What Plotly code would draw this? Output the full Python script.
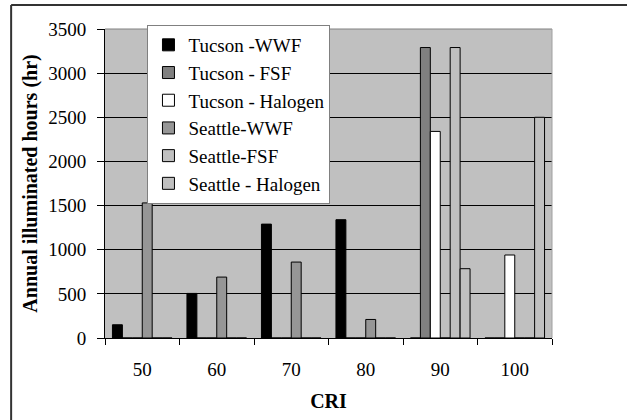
import plotly.graph_objects as go

# CRI categories on the x axis
cri = ["50", "60", "70", "80", "90", "100"]

# Annual illuminated hours per series (0 = no lamp at that CRI)
tucson_wwf = [150, 505, 1290, 1340, 0, 0]
tucson_fsf = [0, 0, 0, 0, 3290, 0]
tucson_halogen = [0, 0, 0, 0, 2340, 940]
seattle_wwf = [1530, 690, 860, 210, 0, 0]
seattle_fsf = [0, 0, 0, 0, 3290, 0]
seattle_halogen = [0, 0, 0, 0, 785, 2500]

series_names = ["Tucson -WWF", "Tucson - FSF", "Tucson - Halogen",
                "Seattle-WWF", "Seattle-FSF", "Seattle - Halogen"]
series_values = [tucson_wwf, tucson_fsf, tucson_halogen,
                 seattle_wwf, seattle_fsf, seattle_halogen]
series_colors = ["#000000", "#808080", "#FFFFFF", "#969696", "#C0C0C0", "#C0C0C0"]

y_ticks = [0, 500, 1000, 1500, 2000, 2500, 3000, 3500]

FONT = "Liberation Serif"

fig = go.Figure()
for name, vals, col in zip(series_names, series_values, series_colors):
    fig.add_trace(go.Bar(
        x=cri, y=vals, name=name,
        marker=dict(color=col, line=dict(color="#000000", width=1)),
    ))

fig.update_layout(
    width=627, height=420,
    margin=dict(l=105, r=75, t=29, b=82),
    paper_bgcolor="#FFFFFF",
    plot_bgcolor="#C0C0C0",
    barmode="group",
    bargap=0.2,
    bargroupgap=0,
    font=dict(family=FONT, size=19, color="#000000"),
    showlegend=True,
    legend=dict(
        x=0.095, y=1.013, xanchor="left", yanchor="top",
        bgcolor="#FFFFFF", bordercolor="#808080", borderwidth=1,
        font=dict(family=FONT, size=19, color="#000000"),
        tracegroupgap=0,
    ),
    xaxis=dict(
        type="category",
        showline=True, linecolor="#000000", linewidth=1,
        ticks="outside", tickson="boundaries", ticklen=6, tickcolor="#000000",
        showgrid=False,
        ticklabelstandoff=14,
        tickfont=dict(family=FONT, size=19),
        title=dict(text="<b>CRI</b>", font=dict(family=FONT, size=20), standoff=15),
    ),
    yaxis=dict(
        range=[0, 3500], tickvals=y_ticks,
        showline=True, linecolor="#000000", linewidth=1,
        ticks="outside", ticklen=7, tickcolor="#000000",
        showgrid=True, gridcolor="#000000", gridwidth=1,
        zeroline=False,
        ticklabelstandoff=7,
        tickfont=dict(family=FONT, size=19),
        title=dict(text="<b>Annual illuminated hours (hr)</b>",
                   font=dict(family=FONT, size=20), standoff=5),
    ),
    shapes=[
        # plot-area frame on top and right
        dict(type="line", xref="paper", yref="paper", x0=0, x1=1, y0=1, y1=1,
             line=dict(color="#808080", width=1), layer="above"),
        dict(type="line", xref="paper", yref="paper", x0=1, x1=1, y0=0, y1=1,
             line=dict(color="#A0A0A0", width=1), layer="above"),
        # outer chart frame (top and left edges)
        dict(type="line", xref="paper", yref="paper", x0=-0.21, x1=1.2,
             y0=1.078, y1=1.078, line=dict(color="#333333", width=2)),
        dict(type="line", xref="paper", yref="paper", x0=-0.21, x1=-0.21,
             y0=1.078, y1=-0.3, line=dict(color="#333333", width=2)),
    ],
)

fig.write_html("out.html")
